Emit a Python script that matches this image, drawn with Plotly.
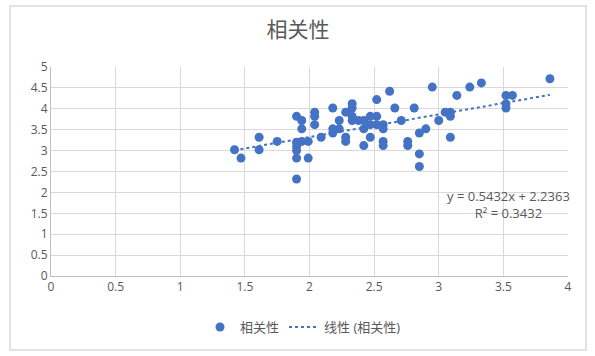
import plotly.graph_objects as go

x_vals = [1.42, 1.47, 1.61, 1.61, 1.75, 1.90, 1.94, 1.94, 1.90, 1.90, 1.90, 1.94, 1.99, 1.90, 1.99, 1.90,
          2.04, 2.04, 2.04, 2.09, 2.18, 2.18, 2.18, 2.23, 2.23, 2.28, 2.28, 2.28, 2.33, 2.33, 2.33, 2.33,
          2.38, 2.42, 2.42, 2.42, 2.47, 2.47, 2.47, 2.52, 2.52, 2.52, 2.57, 2.57, 2.57, 2.57, 2.62, 2.66,
          2.71, 2.76, 2.76, 2.81, 2.85, 2.90, 2.85, 2.85, 2.95, 3.00, 3.05, 3.09, 3.09, 3.09, 3.14, 3.24,
          3.33, 3.52, 3.57, 3.52, 3.52, 3.86]
y_vals = [3.02, 2.82, 3.32, 3.02, 3.22, 3.82, 3.72, 3.52, 3.20, 3.10, 3.00, 3.22, 3.22, 2.82, 2.82, 2.32,
          3.92, 3.82, 3.62, 3.32, 4.02, 3.52, 3.42, 3.72, 3.52, 3.92, 3.32, 3.22, 4.12, 4.02, 3.82, 3.72,
          3.72, 3.72, 3.52, 3.12, 3.82, 3.62, 3.32, 4.22, 3.82, 3.62, 3.62, 3.52, 3.22, 3.12, 4.42, 4.02,
          3.72, 3.22, 3.12, 4.02, 3.42, 3.52, 2.92, 2.62, 4.52, 3.72, 3.92, 3.92, 3.82, 3.32, 4.32, 4.52,
          4.62, 4.32, 4.32, 4.12, 4.02, 4.72]
slope = 0.5432
intercept = 2.2363
r_squared = 0.3432
title_text = "相关性"
series_name = "相关性"
trend_name = "线性 (相关性)"

FONT = "Open Sans, Noto Sans CJK SC"
GRAY = "#595959"
BLUE = "#4472C4"

x_min, x_max = min(x_vals), max(x_vals)
trend_x = [x_min, x_max]
trend_y = [slope * v + intercept for v in trend_x]

fig = go.Figure()
fig.add_trace(go.Scatter(x=x_vals, y=y_vals, mode="markers", name=series_name,
                         marker=dict(color=BLUE, size=9, line=dict(width=0))))
fig.add_trace(go.Scatter(x=trend_x, y=trend_y, mode="lines", name=trend_name,
                         line=dict(color=BLUE, width=2, dash="dot")))

W, H = 595, 356
L, R, T, B = 51, 27, 67, 80
pw, ph = W - L - R, H - T - B

def px_to_paper_x(px):
    return (px - L) / pw

def px_to_paper_y(py):
    return (H - B - py) / ph

fig.update_layout(
    width=W, height=H,
    margin=dict(l=L, r=R, t=T, b=B, pad=0, autoexpand=False),
    paper_bgcolor="white", plot_bgcolor="white",
    font=dict(family=FONT, color=GRAY, size=12),
    title=dict(text=title_text, x=298 / W, xanchor="center", xref="container",
               y=1 - 30 / H, yanchor="middle", yref="container",
               font=dict(size=21, color=GRAY, family="Noto Sans CJK SC")),
    xaxis=dict(range=[0, 4], dtick=0.5, tick0=0, showgrid=True, gridcolor="#D9D9D9", gridwidth=1,
               zeroline=False, showline=True, linecolor="#BFBFBF", linewidth=1, automargin=False,
               ticks="", tickfont=dict(size=12, color=GRAY), fixedrange=True),
    yaxis=dict(range=[0, 5], dtick=0.5, tick0=0, showgrid=True, gridcolor="#D9D9D9", gridwidth=1,
               zeroline=False, showline=True, linecolor="#BFBFBF", linewidth=1, automargin=False,
               ticks="", tickfont=dict(size=12, color=GRAY), fixedrange=True),
    showlegend=True,
    legend=dict(orientation="h", x=303 / W, xanchor="center", xref="container",
                y=1 - 327 / H, yanchor="middle", yref="container",
                font=dict(size=13, color=GRAY), bgcolor="rgba(0,0,0,0)"),
    shapes=[dict(type="rect", xref="paper", yref="paper",
                 x0=px_to_paper_x(10), x1=px_to_paper_x(586),
                 y0=px_to_paper_y(350), y1=px_to_paper_y(6),
                 line=dict(color="#D9D9D9", width=1.5), fillcolor="rgba(0,0,0,0)", layer="below")],
    annotations=[dict(x=3.54, y=1.70, xref="x", yref="y",
                      text=f"y = {slope}x + {intercept}<br>R² = {r_squared}",
                      showarrow=False, align="center", font=dict(size=13, color=GRAY))],
)

fig.write_html("out.html", config={"displayModeBar": False},
               post_script="document.body.style.margin='0';document.body.style.padding='0';")
